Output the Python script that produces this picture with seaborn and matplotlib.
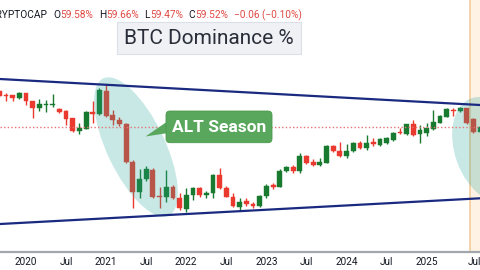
import numpy as np
import pandas as pd
import matplotlib
matplotlib.use("Agg")
import matplotlib.pyplot as plt
import matplotlib.transforms as mtransforms
from matplotlib.patches import Ellipse, FancyBboxPatch, Polygon
import seaborn as sns

sns.set_style("white")
plt.rcParams["font.family"] = ["Roboto", "DejaVu Sans"]

# Monthly BTC dominance candles (%), Sep 2019 .. Sep 2025
first_month = "2019-09-01"
opens = [68.41, 67.42, 67.35, 66.61,
         67.84, 65.87, 64.21, 64.95, 64.88, 63.89, 63.40, 61.67, 58.61, 59.03, 63.30, 62.66,
         68.41, 62.48, 61.37, 60.19, 51.00, 43.47, 46.61, 48.90, 42.48, 42.16, 44.83, 41.99,
         39.40, 42.73, 44.38, 42.66, 43.15, 47.67, 44.46, 42.36, 39.84, 41.32, 40.51, 40.01,
         42.48, 45.20, 44.78, 48.73, 49.72, 48.66, 52.36, 51.00, 50.14, 50.71, 54.83, 53.72,
         52.36, 53.67, 55.64, 54.26, 55.89, 55.08, 55.50, 56.31, 58.36, 57.79, 60.38, 57.79,
         58.11, 58.95, 60.58, 62.06, 63.72, 63.47, 64.14, 61.42, 58.36]
highs = [68.66, 67.99, 67.42, 68.24,
         67.99, 66.01, 66.36, 66.19, 67.67, 64.14, 63.72, 61.82, 60.43, 63.47, 65.94, 69.15,
         70.26, 63.72, 61.92, 60.58, 51.37, 49.08, 49.89, 49.40, 44.63, 48.90, 45.20, 43.22,
         44.38, 44.78, 44.78, 43.72, 47.84, 49.47, 44.95, 43.15, 41.92, 41.92, 41.08, 42.73,
         45.45, 45.62, 49.08, 49.89, 50.14, 53.17, 52.61, 51.54, 51.79, 55.08, 55.08, 55.89,
         55.32, 55.89, 56.14, 57.54, 56.73, 56.86, 56.99, 58.29, 59.20, 60.26, 61.25, 60.01,
         60.43, 63.72, 62.48, 64.14, 64.14, 64.53, 64.29, 61.82, 59.77]
lows = [66.93, 66.01, 65.94, 66.36,
        64.95, 61.67, 63.54, 63.30, 64.53, 63.05, 60.01, 58.36, 57.72, 58.95, 60.58, 62.48,
        61.99, 60.01, 59.77, 50.56, 39.45, 41.92, 46.19, 41.99, 39.45, 41.08, 41.67, 39.03,
        38.61, 41.50, 42.31, 41.92, 41.92, 44.14, 42.16, 39.84, 39.03, 40.01, 39.45, 39.84,
        41.92, 44.14, 44.63, 48.48, 48.16, 48.24, 50.38, 49.89, 49.89, 50.56, 53.35, 52.11,
        51.79, 53.42, 54.01, 53.84, 54.83, 54.83, 55.32, 56.06, 57.79, 57.54, 57.30, 55.50,
        57.30, 58.78, 60.43, 61.92, 62.24, 63.30, 60.26, 57.96, 58.29]
closes = [67.17, 67.17, 66.75, 67.84,
          65.87, 64.21, 65.12, 65.20, 65.12, 63.30, 61.42, 58.53, 59.35, 63.30, 62.66, 68.66,
          62.24, 61.37, 60.19, 50.95, 43.55, 46.61, 49.08, 42.31, 42.16, 44.78, 41.92, 39.45,
          42.73, 44.38, 42.73, 43.30, 47.67, 44.38, 42.31, 40.01, 41.08, 40.51, 40.01, 42.48,
          44.95, 44.63, 48.73, 49.72, 48.66, 52.36, 50.56, 50.14, 50.95, 54.83, 53.67, 52.36,
          53.67, 55.64, 54.26, 55.64, 55.25, 56.48, 56.73, 57.96, 57.96, 60.19, 57.54, 58.78,
          59.20, 60.83, 62.24, 63.89, 63.47, 64.14, 60.43, 58.36, 59.52]

last_price = 59.52
header_symbol = "CRYPTOCAP"
header_fields = ["O", "H", "L", "C"]
header_values = ["59.58%", "59.66%", "59.47%", "59.52%"]
header_change = "\u22120.06 (\u22120.10%)"
title_text = "BTC Dominance %"
callout_text = "ALT Season"

# Channel trendlines: month offsets from Jan 2020 and dominance levels
channel_months = [-3.9, 68.0]
upper_channel = [71.37, 64.95]
lower_channel = [35.57, 41.92]
marker_month = 66.49

dates = pd.date_range(first_month, periods=len(opens), freq="MS")
df = pd.DataFrame({"date": dates, "open": opens, "high": highs,
                   "low": lows, "close": closes})
df["m"] = (df["date"].dt.year - 2020) * 12 + df["date"].dt.month - 1
df["up"] = df["close"] >= df["open"]

UP = "#187a2e"
DOWN = "#ea3a2f"
NEG = "#e04a45"
INK = "#131722"

fig = plt.figure(figsize=(4.8, 2.7), dpi=100)
ax = fig.add_axes([0, 18 / 270, 1, 252 / 270])
# pixel-space transform (origin top-left) for overlay drawings and header
px = mtransforms.Affine2D().scale(1 / 480, -1 / 270).translate(0, 1) + fig.transFigure

ax.set_xlim(-3.893, 67.98)
ax.set_ylim(28.66, 90.88)

# highlighted right-hand period
ax.axvspan(marker_month, 80, color="#fdf2e4", zorder=0, lw=0)
ax.axvline(marker_month, color="#f3cc9c", lw=1.2, zorder=0.5)

# candles
colors = np.where(df["up"], UP, DOWN)
ax.vlines(df["m"], df["low"], df["high"], colors=colors, lw=1.0, zorder=2)
body_lo = np.minimum(df["open"], df["close"])
body_h = np.maximum(np.abs(df["close"] - df["open"]), 0.25)
ax.bar(df["m"], body_h, bottom=body_lo, width=0.72, color=colors,
       edgecolor=colors, lw=0.3, zorder=3)

# highlight ellipses
for (cx, cy, w, h, ang) in [(136, 147, 152, 58, 64.5), (490, 150, 110, 70, 70)]:
    e = Ellipse((cx, cy), w, h, angle=ang, transform=px, facecolor="#26a69a",
                alpha=0.25, lw=0, zorder=4, clip_on=False)
    ax.add_patch(e)

# last price line
ax.axhline(last_price, color="#e57373", lw=1.0, ls=(0, (1, 1.6)), zorder=4.5)

# channel lines
trend = pd.DataFrame({
    "m": channel_months * 2,
    "v": upper_channel + lower_channel,
    "line": ["upper"] * 2 + ["lower"] * 2,
})
sns.lineplot(data=trend, x="m", y="v", units="line", estimator=None,
             color="#1a2a80", lw=1.6, ax=ax, zorder=5, legend=False)

# axis styling
for side in ["top", "left", "right"]:
    ax.spines[side].set_visible(False)
ax.spines["bottom"].set_color("#a3a6ad")
ax.spines["bottom"].set_linewidth(1.6)
ax.set_yticks([])
ax.set_xlabel("")
ax.set_ylabel("")
tick_pos = list(range(0, 67, 6))
tick_lab = [str(2020 + p // 12) if p % 12 == 0 else "Jul" for p in tick_pos]
ax.set_xticks(tick_pos)
ax.set_xticklabels(tick_lab, fontsize=7.2, color=INK)
ax.tick_params(axis="x", length=0, pad=3.5)
last_lab = ax.get_xticklabels()[-1]
last_lab.set_transform(last_lab.get_transform() +
                       mtransforms.ScaledTranslation(8 / 100, 0, fig.dpi_scale_trans))

# header line: symbol, OHLC fields and change, laid out left to right
renderer = fig.canvas.get_renderer()
fs = 7.3
base_y = 18.5


def put(x, s, color):
    t = fig.text(x, base_y, s, transform=px, ha="left", va="baseline",
                 fontsize=fs, color=color)
    return x + t.get_window_extent(renderer).width


fig.text(47, base_y, header_symbol, transform=px, ha="right", va="baseline",
         fontsize=fs, color=INK)
x = 53
for f, v in zip(header_fields, header_values):
    x = put(x, f, INK)
    x = put(x + 0.3, v, NEG)
    x += 5.5
put(x, header_change, NEG)

# title box
title_box = FancyBboxPatch((117, 22), 184, 31.5, boxstyle="square,pad=0", transform=px,
                           facecolor="#eff1f5", edgecolor="#dcdfe6", lw=0.8, zorder=6,
                           clip_on=False)
ax.add_patch(title_box)
fig.text(209, 38, title_text, transform=px, ha="center", va="center",
         fontsize=15, color="#2a2e39", zorder=7)

# callout
callout_color = "#58a75c"
ax.add_patch(Polygon([(168, 121), (145.5, 136.5), (168, 133)], closed=True, transform=px,
                     facecolor=callout_color, lw=0, zorder=6, clip_on=False))
ax.add_patch(FancyBboxPatch((166, 111), 106, 31.7, boxstyle="round,pad=0,rounding_size=4",
                            transform=px, facecolor=callout_color, edgecolor="#4a9a4e",
                            lw=0.6, zorder=6, clip_on=False))
fig.text(219, 127.5, callout_text, transform=px, ha="center", va="center",
         fontsize=12.5, fontweight="bold", color="white", zorder=7)

fig.savefig("out.png", dpi=100)
